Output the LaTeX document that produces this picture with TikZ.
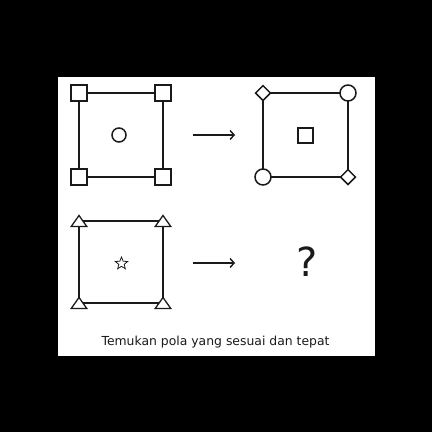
\documentclass[tikz,border=0pt]{standalone}
\usepackage{fontspec}
\setmainfont{DejaVu Sans}
\usetikzlibrary{shapes.geometric,arrows.meta}
\definecolor{ink}{HTML}{1A1A1A}
\begin{document}
\begin{tikzpicture}[x=1pt,y=-1pt,
  ln/.style={draw=ink, line width=2pt},
  sqc/.style={draw=ink, fill=white, line width=1.5pt, rectangle, minimum size=16pt, inner sep=0pt},
  cic/.style={draw=ink, fill=white, line width=1.5pt, circle, minimum size=16pt, inner sep=0pt},
  dic/.style={draw=ink, fill=white, line width=1.5pt, diamond, minimum width=15.5pt, minimum height=15.5pt, inner sep=0pt},
  arr/.style={draw=ink, line width=1.4pt, -{Straight Barb[length=4pt,width=9pt]}},
  tri/.pic={\draw[draw=ink, fill=white, line width=1.3pt] (0,-5.5) -- (7.8,5.5) -- (-7.8,5.5) -- cycle;}]
\useasboundingbox (0,0) rectangle (432,432);
\fill[black] (0,0) rectangle (432,432);
\fill[white] (58,77) rectangle (375,356);
% frame 1
\coordinate (a1) at (79,93);
\coordinate (a2) at (163,93);
\coordinate (a3) at (163,177);
\coordinate (a4) at (79,177);
\draw[ln] (a1) -- (a2) -- (a3) -- (a4) -- cycle;
\node[sqc] (q1) at (a1) {};
\node[sqc] (q2) at (a2) {};
\node[sqc] (q3) at (a3) {};
\node[sqc] (q4) at (a4) {};
\node[draw=ink, line width=1.5pt, circle, minimum size=14pt, inner sep=0pt] (c1) at (119,135) {};
% arrow 1
\coordinate (s1) at (192.5,135);
\coordinate (e1) at (235,135);
\draw[arr] (s1) -- (e1);
% frame 2
\coordinate (b1) at (263,93);
\coordinate (b2) at (348,93);
\coordinate (b3) at (348,177);
\coordinate (b4) at (263,177);
\draw[ln] (b1) -- (b2) -- (b3) -- (b4) -- cycle;
\node[dic] (d1) at (b1) {};
\node[cic] (o2) at (b2) {};
\node[dic] (d3) at (b3) {};
\node[cic] (o4) at (b4) {};
\node[draw=ink, line width=1.5pt, rectangle, minimum size=15pt, inner sep=0pt] (s2) at (305.5,135.5) {};
% frame 3
\coordinate (t1) at (79,221);
\coordinate (t2) at (163,221);
\coordinate (t3) at (163,303);
\coordinate (t4) at (79,303);
\draw[ln] (t1) -- (t2) -- (t3) -- (t4) -- cycle;
\pic at (t1) {tri};
\pic at (t2) {tri};
\pic at (t3) {tri};
\pic at (t4) {tri};
\node[star, star points=5, star point ratio=2.3, minimum size=13pt, inner sep=0pt, draw=ink, line width=0.8pt] (st) at (121.5,263.5) {};
% arrow 2
\coordinate (s3) at (192.5,263);
\coordinate (e3) at (235,263);
\draw[arr] (s3) -- (e3);
\node[inner sep=0pt, text=ink] (qm) at (306.7,261.7) {\fontsize{40}{40}\selectfont ?};
\node[anchor=base, inner sep=0pt, text=ink] (cap) at (215.5,345) {\fontsize{12.4}{14}\selectfont Temukan pola yang sesuai dan tepat};
\end{tikzpicture}
\end{document}
